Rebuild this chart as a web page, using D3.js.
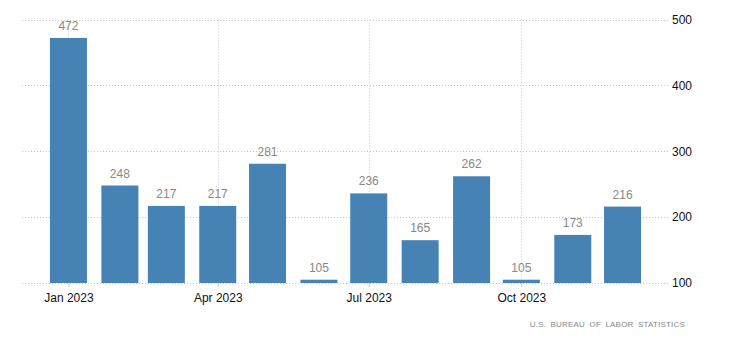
<!DOCTYPE html>
<html><head><meta charset="utf-8">
<script src="https://cdn.jsdelivr.net/npm/d3@7"></script>
<style>body{margin:0;background:#fff;font-family:"Liberation Sans",Arial,sans-serif;}</style>
</head><body><svg id="c" width="730" height="351"></svg>
<script>
const months = ["2023-01","2023-02","2023-03","2023-04","2023-05","2023-06","2023-07","2023-08","2023-09","2023-10","2023-11","2023-12"];
const values = [472,248,217,217,281,105,236,165,262,105,173,216];
const yTicks = [100,200,300,400,500];
const xTickMonths = ["2023-01","2023-04","2023-07","2023-10"];
const source = "U.S. BUREAU OF LABOR STATISTICS";

(function(){
const parse = d3.timeParse("%Y-%m");
const dates = months.map(parse);
const svg = d3.select("#c");
const mL = 22, mR = 669, mT = 19.5, mB = 283;

const x = d3.scaleTime()
  .domain([d3.timeDay.offset(dates[0], -28), d3.timeDay.offset(dates[dates.length-1], 28)])
  .range([mL, mR]);
const y = d3.scaleLinear().domain([100, 500]).range([mB, mT]);
const barW = 37;

svg.append("g").selectAll("line").data(yTicks).join("line")
  .attr("x1", mL).attr("x2", mR)
  .attr("y1", d => Math.round(y(d)) + 0.5).attr("y2", d => Math.round(y(d)) + 0.5)
  .attr("stroke", "#c8c8c8").attr("stroke-dasharray", "1,2");
const xt = xTickMonths.map(parse);
svg.append("g").selectAll("line").data(xt).join("line")
  .attr("x1", d => Math.round(x(d)) + 0.5).attr("x2", d => Math.round(x(d)) + 0.5)
  .attr("y1", mT).attr("y2", mB)
  .attr("stroke", "#c8c8c8").attr("stroke-dasharray", "1,2");

svg.append("g").selectAll("rect").data(values).join("rect")
  .attr("x", (d, i) => x(dates[i]) - barW / 2)
  .attr("width", barW)
  .attr("y", d => y(d))
  .attr("height", d => mB - y(d))
  .attr("fill", "#4682b4");

svg.append("g").selectAll("text").data(values).join("text")
  .attr("x", (d, i) => x(dates[i]))
  .attr("y", d => y(d) - 8)
  .attr("text-anchor", "middle")
  .attr("font-size", 12).attr("fill", "#888")
  .text(d => d);

const xAxis = d3.axisBottom(x).tickValues(xt).tickFormat(d3.timeFormat("%b %Y")).tickSize(4).tickPadding(6);
const gx = svg.append("g").attr("transform", `translate(0,${mB})`).call(xAxis);
gx.select(".domain").remove();
gx.selectAll(".tick line").attr("stroke", "#c8c8c8");
gx.selectAll("text").attr("font-size", 12).attr("fill", "#111").attr("font-family", "Liberation Sans, Arial, sans-serif");

const yAxis = d3.axisRight(y).tickValues(yTicks).tickSize(0).tickPadding(3);
const gy = svg.append("g").attr("transform", `translate(${mR},0)`).call(yAxis);
gy.select(".domain").remove();
gy.selectAll("text").attr("font-size", 12).attr("fill", "#111").attr("font-family", "Liberation Sans, Arial, sans-serif");

svg.append("text").attr("x", 685).attr("y", 327).attr("text-anchor", "end")
  .attr("font-size", 8).attr("fill", "#888").attr("letter-spacing", "0.2").attr("word-spacing", "2")
  .text(source);
})();
</script></body></html>
